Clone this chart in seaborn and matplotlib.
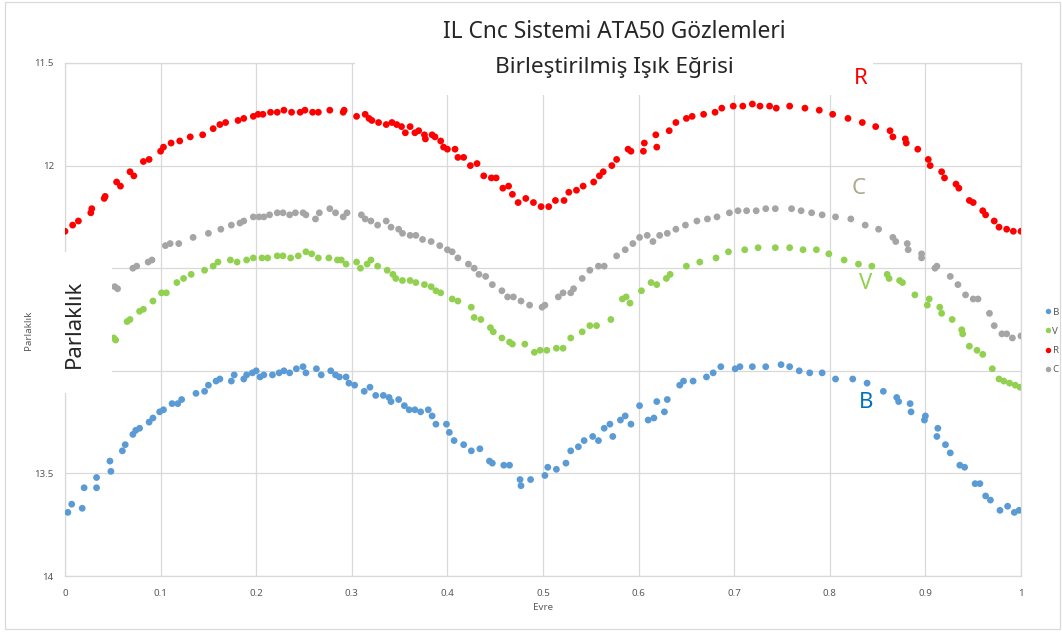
import numpy as np
import pandas as pd
import matplotlib
matplotlib.use("Agg")
import matplotlib.pyplot as plt
import seaborn as sns
from matplotlib.patches import Rectangle

# evre / parlaklik okumalari (grafikten)
r_x = [0.000, 0.008, 0.014, 0.027, 0.028, 0.041, 0.042, 0.054, 0.058, 0.068, 0.072, 0.082, 0.088, 0.100, 0.103,
       0.111, 0.120, 0.131, 0.144, 0.155, 0.162, 0.168, 0.181, 0.187, 0.197, 0.202, 0.207, 0.215, 0.222, 0.229,
       0.237, 0.246, 0.251, 0.259, 0.265, 0.277, 0.291, 0.292, 0.305, 0.314, 0.318, 0.321, 0.328, 0.336, 0.342,
       0.347, 0.352, 0.356, 0.361, 0.366, 0.370, 0.376, 0.377, 0.384, 0.387, 0.393, 0.396, 0.400, 0.408, 0.411,
       0.417, 0.424, 0.431, 0.438, 0.446, 0.451, 0.458, 0.464, 0.468, 0.474, 0.482, 0.490, 0.498, 0.506, 0.513,
       0.522, 0.527, 0.535, 0.542, 0.553, 0.559, 0.563, 0.572, 0.577, 0.589, 0.592, 0.605, 0.606, 0.618, 0.619,
       0.632, 0.639, 0.650, 0.656, 0.668, 0.680, 0.687, 0.699, 0.709, 0.719, 0.727, 0.737, 0.744, 0.758, 0.774,
       0.789, 0.803, 0.819, 0.834, 0.848, 0.863, 0.866, 0.879, 0.880, 0.892, 0.903, 0.905, 0.917, 0.920, 0.932,
       0.935, 0.946, 0.950, 0.960, 0.963, 0.972, 0.977, 0.985, 0.992, 1.000]
r_y = [12.32, 12.29, 12.27, 12.23, 12.21, 12.16, 12.15, 12.08, 12.10, 12.03, 12.05, 11.98, 11.97, 11.93, 11.91,
       11.89, 11.88, 11.86, 11.85, 11.82, 11.80, 11.79, 11.78, 11.77, 11.76, 11.75, 11.75, 11.74, 11.74, 11.73,
       11.74, 11.74, 11.73, 11.74, 11.74, 11.73, 11.74, 11.73, 11.76, 11.75, 11.77, 11.78, 11.79, 11.80, 11.79,
       11.80, 11.81, 11.84, 11.81, 11.84, 11.83, 11.85, 11.87, 11.85, 11.86, 11.88, 11.91, 11.92, 11.92, 11.96,
       11.96, 12.00, 11.99, 12.05, 12.06, 12.06, 12.11, 12.10, 12.14, 12.18, 12.16, 12.18, 12.20, 12.20, 12.17,
       12.17, 12.13, 12.12, 12.10, 12.08, 12.05, 12.03, 12.00, 11.97, 11.92, 11.93, 11.93, 11.89, 11.85, 11.91,
       11.83, 11.79, 11.77, 11.76, 11.75, 11.74, 11.72, 11.71, 11.71, 11.70, 11.71, 11.71, 11.72, 11.71, 11.72,
       11.73, 11.75, 11.77, 11.79, 11.81, 11.83, 11.86, 11.87, 11.89, 11.92, 11.97, 12.00, 12.03, 12.06, 12.09,
       12.11, 12.17, 12.18, 12.22, 12.24, 12.27, 12.30, 12.31, 12.32, 12.32]

c_x = [0.052, 0.055, 0.071, 0.075, 0.087, 0.091, 0.105, 0.110, 0.119, 0.134, 0.150, 0.163, 0.174, 0.183, 0.187,
       0.197, 0.203, 0.208, 0.214, 0.222, 0.228, 0.235, 0.241, 0.249, 0.252, 0.262, 0.266, 0.277, 0.283, 0.291,
       0.295, 0.310, 0.314, 0.320, 0.327, 0.336, 0.341, 0.349, 0.353, 0.361, 0.367, 0.374, 0.383, 0.392, 0.400,
       0.405, 0.411, 0.422, 0.428, 0.433, 0.440, 0.447, 0.457, 0.463, 0.469, 0.477, 0.486, 0.499, 0.502, 0.516,
       0.521, 0.529, 0.532, 0.541, 0.549, 0.558, 0.564, 0.577, 0.586, 0.594, 0.601, 0.609, 0.615, 0.622, 0.630,
       0.639, 0.649, 0.661, 0.672, 0.682, 0.695, 0.704, 0.713, 0.723, 0.733, 0.743, 0.760, 0.770, 0.781, 0.792,
       0.806, 0.822, 0.837, 0.851, 0.866, 0.869, 0.881, 0.882, 0.896, 0.896, 0.910, 0.912, 0.926, 0.934, 0.942,
       0.950, 0.955, 0.967, 0.972, 0.980, 0.985, 0.991, 1.000]
c_y = [12.59, 12.60, 12.50, 12.49, 12.47, 12.46, 12.39, 12.38, 12.38, 12.35, 12.33, 12.31, 12.29, 12.28, 12.27,
       12.25, 12.25, 12.25, 12.24, 12.23, 12.23, 12.24, 12.23, 12.23, 12.24, 12.26, 12.23, 12.21, 12.23, 12.25,
       12.23, 12.24, 12.26, 12.27, 12.29, 12.27, 12.30, 12.31, 12.33, 12.34, 12.34, 12.36, 12.37, 12.39, 12.41,
       12.42, 12.45, 12.48, 12.50, 12.53, 12.54, 12.58, 12.61, 12.64, 12.64, 12.66, 12.68, 12.69, 12.68, 12.64,
       12.62, 12.62, 12.60, 12.55, 12.51, 12.49, 12.49, 12.44, 12.41, 12.38, 12.35, 12.34, 12.37, 12.34, 12.33,
       12.31, 12.29, 12.27, 12.26, 12.25, 12.23, 12.22, 12.22, 12.22, 12.21, 12.21, 12.21, 12.22, 12.23, 12.24,
       12.25, 12.26, 12.29, 12.31, 12.35, 12.37, 12.38, 12.41, 12.43, 12.45, 12.50, 12.49, 12.54, 12.58, 12.63,
       12.65, 12.65, 12.72, 12.78, 12.82, 12.82, 12.84, 12.83]

v_x = [0.051, 0.053, 0.065, 0.068, 0.078, 0.082, 0.092, 0.101, 0.106, 0.117, 0.124, 0.132, 0.146, 0.155, 0.160,
       0.173, 0.180, 0.190, 0.197, 0.206, 0.212, 0.222, 0.228, 0.236, 0.244, 0.252, 0.258, 0.265, 0.276, 0.285,
       0.289, 0.294, 0.305, 0.309, 0.316, 0.320, 0.327, 0.337, 0.343, 0.346, 0.353, 0.361, 0.367, 0.376, 0.383,
       0.388, 0.393, 0.405, 0.411, 0.425, 0.428, 0.435, 0.445, 0.448, 0.457, 0.465, 0.468, 0.481, 0.491, 0.497,
       0.504, 0.514, 0.521, 0.529, 0.541, 0.549, 0.556, 0.571, 0.583, 0.587, 0.591, 0.603, 0.613, 0.619, 0.629,
       0.633, 0.650, 0.664, 0.681, 0.694, 0.711, 0.725, 0.743, 0.758, 0.772, 0.786, 0.799, 0.815, 0.830, 0.844,
       0.860, 0.862, 0.873, 0.876, 0.889, 0.904, 0.902, 0.915, 0.917, 0.928, 0.938, 0.939, 0.946, 0.954, 0.960,
       0.970, 0.977, 0.982, 0.988, 0.994, 0.999]
v_y = [12.84, 12.85, 12.76, 12.75, 12.71, 12.70, 12.66, 12.62, 12.62, 12.57, 12.55, 12.53, 12.51, 12.49, 12.47,
       12.46, 12.47, 12.46, 12.45, 12.45, 12.45, 12.44, 12.44, 12.45, 12.44, 12.42, 12.43, 12.45, 12.45, 12.46,
       12.46, 12.48, 12.47, 12.50, 12.48, 12.46, 12.49, 12.51, 12.53, 12.55, 12.56, 12.56, 12.57, 12.58, 12.59,
       12.61, 12.62, 12.65, 12.66, 12.69, 12.74, 12.75, 12.79, 12.81, 12.84, 12.86, 12.87, 12.87, 12.91, 12.90,
       12.90, 12.89, 12.89, 12.84, 12.81, 12.78, 12.78, 12.75, 12.65, 12.64, 12.67, 12.61, 12.57, 12.58, 12.55,
       12.53, 12.49, 12.47, 12.45, 12.42, 12.41, 12.40, 12.40, 12.40, 12.41, 12.41, 12.43, 12.46, 12.48, 12.49,
       12.53, 12.55, 12.56, 12.57, 12.63, 12.65, 12.68, 12.69, 12.72, 12.75, 12.80, 12.82, 12.88, 12.90, 12.92,
       12.99, 13.04, 13.05, 13.06, 13.07, 13.08]

b_x = [0.003, 0.007, 0.018, 0.020, 0.033, 0.033, 0.047, 0.048, 0.060, 0.063, 0.071, 0.074, 0.078, 0.088, 0.092,
       0.099, 0.103, 0.112, 0.118, 0.122, 0.137, 0.146, 0.150, 0.158, 0.162, 0.174, 0.177, 0.187, 0.190, 0.196,
       0.200, 0.204, 0.208, 0.217, 0.224, 0.229, 0.235, 0.242, 0.249, 0.252, 0.263, 0.268, 0.278, 0.283, 0.287,
       0.294, 0.297, 0.303, 0.313, 0.319, 0.325, 0.333, 0.339, 0.341, 0.349, 0.355, 0.360, 0.366, 0.372, 0.380,
       0.384, 0.388, 0.399, 0.402, 0.407, 0.417, 0.425, 0.434, 0.444, 0.447, 0.459, 0.465, 0.476, 0.477, 0.487,
       0.502, 0.505, 0.514, 0.524, 0.529, 0.537, 0.543, 0.552, 0.558, 0.564, 0.570, 0.573, 0.581, 0.586, 0.592,
       0.601, 0.610, 0.616, 0.619, 0.627, 0.630, 0.643, 0.647, 0.657, 0.671, 0.678, 0.686, 0.701, 0.706, 0.719,
       0.733, 0.749, 0.758, 0.768, 0.779, 0.792, 0.806, 0.824, 0.839, 0.856, 0.870, 0.872, 0.884, 0.885, 0.900,
       0.899, 0.913, 0.912, 0.921, 0.926, 0.936, 0.941, 0.952, 0.957, 0.963, 0.968, 0.978, 0.986, 0.993, 0.998]
b_y = [13.69, 13.65, 13.67, 13.57, 13.57, 13.52, 13.44, 13.49, 13.39, 13.36, 13.31, 13.29, 13.28, 13.25, 13.23,
       13.20, 13.19, 13.16, 13.16, 13.14, 13.11, 13.10, 13.07, 13.05, 13.04, 13.05, 13.02, 13.04, 13.02, 13.01,
       13.00, 13.03, 13.02, 13.02, 13.01, 13.00, 13.01, 12.99, 12.98, 13.01, 12.99, 13.02, 13.00, 13.02, 13.03,
       13.03, 13.06, 13.07, 13.10, 13.08, 13.12, 13.12, 13.13, 13.15, 13.14, 13.17, 13.19, 13.19, 13.20, 13.19,
       13.22, 13.26, 13.26, 13.30, 13.34, 13.36, 13.39, 13.38, 13.44, 13.45, 13.46, 13.46, 13.53, 13.56, 13.53,
       13.51, 13.47, 13.48, 13.45, 13.39, 13.37, 13.34, 13.32, 13.34, 13.28, 13.26, 13.32, 13.24, 13.22, 13.26,
       13.17, 13.24, 13.23, 13.15, 13.20, 13.14, 13.07, 13.05, 13.05, 13.03, 13.01, 12.98, 12.99, 12.98, 12.98,
       12.98, 12.97, 12.98, 13.00, 13.01, 13.01, 13.04, 13.04, 13.06, 13.10, 13.13, 13.15, 13.16, 13.20, 13.22,
       13.24, 13.28, 13.32, 13.36, 13.40, 13.46, 13.47, 13.55, 13.55, 13.61, 13.63, 13.68, 13.66, 13.69, 13.68]

filters = ["B", "V", "R", "C"]
colors = ["#5B9BD5", "#92D050", "#FF0000", "#A5A5A5"]
x_ticks = [0, 0.1, 0.2, 0.3, 0.4, 0.5, 0.6, 0.7, 0.8, 0.9, 1]
y_ticks = [11.5, 12, 12.5, 13, 13.5, 14]

df = pd.concat([
    pd.DataFrame({"Evre": b_x, "Parlaklik": b_y, "Filtre": "B"}),
    pd.DataFrame({"Evre": v_x, "Parlaklik": v_y, "Filtre": "V"}),
    pd.DataFrame({"Evre": r_x, "Parlaklik": r_y, "Filtre": "R"}),
    pd.DataFrame({"Evre": c_x, "Parlaklik": c_y, "Filtre": "C"}),
], ignore_index=True)

sns.set_style("white")
plt.rcParams["font.family"] = ["Noto Sans", "DejaVu Sans"]

W, H = 1062, 632
fig = plt.figure(figsize=(W / 100, H / 100), dpi=100)
ax = fig.add_axes([65 / W, 1 - 576 / H, 956 / W, 513 / H])

sns.scatterplot(data=df, x="Evre", y="Parlaklik", hue="Filtre", hue_order=filters,
                palette=colors, s=24, linewidth=0, ax=ax, zorder=3)

ax.set_xlim(0, 1)
ax.set_ylim(14, 11.5)
ax.set_xticks(x_ticks)
ax.set_xticklabels([f"{t:g}" for t in x_ticks])
ax.set_yticks(y_ticks)
ax.set_yticklabels([f"{t:g}" for t in y_ticks])
ax.grid(True, color="#d9d9d9", linewidth=0.9)
ax.set_axisbelow(True)
for s in ax.spines.values():
    s.set_color("#d9d9d9")
    s.set_linewidth(0.9)
ax.tick_params(length=0, labelsize=7, labelcolor="#595959")
ax.tick_params(axis="y", pad=8)
ax.tick_params(axis="x", pad=9)
ax.set_xlabel("")
ax.set_ylabel("")

handles, labels = ax.get_legend_handles_labels()
ax.get_legend().remove()
fig.legend(handles, labels, loc="center left", bbox_to_anchor=(1035 / W, 1 - 341 / H),
           frameon=False, fontsize=7, labelcolor="#595959", handletextpad=0.1,
           handlelength=0.8, labelspacing=1.05, markerscale=0.8)

# beyaz kutular (grafik uzerindeki metin kutulari)
fig.patches.append(Rectangle((35 / W, 1 - 393 / H), 77 / W, 141 / H, transform=fig.transFigure,
                             facecolor="white", edgecolor="none", zorder=5))
fig.patches.append(Rectangle((355 / W, 1 - 95 / H), 518 / W, 80 / H, transform=fig.transFigure,
                             facecolor="white", edgecolor="none", zorder=5))
fig.patches.append(Rectangle((5 / W, 1 - 629 / H), 1055 / W, 627 / H, transform=fig.transFigure,
                             facecolor="none", edgecolor="#d9d9d9", linewidth=0.9, zorder=5))

fig.text(614 / W, 1 - 32 / H, "IL Cnc Sistemi ATA50 Gözlemleri", ha="center", va="center",
         fontsize=16.4, zorder=6)
fig.text(614 / W, 1 - 68 / H, "Birleştirilmiş Işık Eğrisi", ha="center", va="center",
         fontsize=16.3, zorder=6)
fig.text(74 / W, 1 - 324 / H, "Parlaklık", rotation=90, ha="center", va="center",
         fontsize=16, zorder=6)
fig.text(28 / W, 1 - 330 / H, "Parlaklık", rotation=90, ha="center", va="center",
         fontsize=7, color="#595959")
fig.text(543 / W, 1 - 608 / H, "Evre", ha="center", va="center", fontsize=7, color="#595959")

fig.text(861 / W, 1 - 79 / H, "R", ha="center", va="center", fontsize=16, color="#FF0000", zorder=6)
fig.text(859 / W, 1 - 188 / H, "C", ha="center", va="center", fontsize=16, color="#AEAA8C", zorder=6)
fig.text(866 / W, 1 - 284 / H, "V", ha="center", va="center", fontsize=16, color="#92D050", zorder=6)
fig.text(866 / W, 1 - 403 / H, "B", ha="center", va="center", fontsize=16, color="#0070C0", zorder=6)

fig.savefig("out.png", dpi=100)
